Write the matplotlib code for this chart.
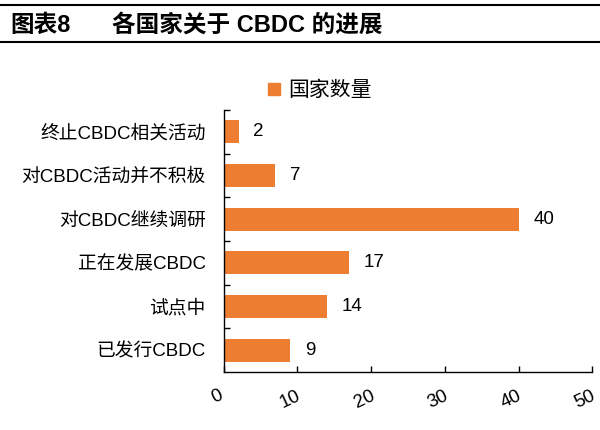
import matplotlib.pyplot as plt
import matplotlib.transforms as mtransforms
from matplotlib.lines import Line2D

plt.rcParams['font.family'] = ['Liberation Sans', 'Noto Sans CJK SC']

categories = ["终止CBDC相关活动", "对CBDC活动并不积极", "对CBDC继续调研",
              "正在发展CBDC", "试点中", "已发行CBDC"]
counts = [2, 7, 40, 17, 14, 9]
xticks = [0, 10, 20, 30, 40, 50]
series_name = "国家数量"
title_no = "图表8"
title = "各国家关于 CBDC 的进展"

orange = "#ED7D31"

fig = plt.figure(figsize=(6, 4.3), dpi=100)
ax = fig.add_axes([0.373, 0.135, 0.614, 0.609])

pos = list(range(len(categories)))
ax.barh(pos, counts, height=0.53, color=orange)
ax.set_ylim(len(categories) - 0.5, -0.5)
ax.set_xlim(0, 50)

for p, v in zip(pos, counts):
    ax.text(v + 2, p, str(v), va="center", ha="left", fontsize=13.5)

ax.set_yticks(pos)
ax.set_yticklabels(categories, fontsize=13.5)
ax.set_yticks([p + 0.5 for p in pos[:-1]] + [-0.5], minor=True)
ax.tick_params(axis="y", which="major", length=0, pad=13)
ax.tick_params(axis="y", which="minor", length=4, direction="in", width=1)

ax.set_xticks(xticks)
ax.set_xticklabels([str(t) for t in xticks], rotation=25, fontsize=13.5,
                   ha="center")
ax.tick_params(axis="x", length=4, direction="in", width=1, pad=11)
shift = mtransforms.ScaledTranslation(-7 / 100, 0, fig.dpi_scale_trans)
for lab in ax.get_xticklabels():
    lab.set_transform(lab.get_transform() + shift)

for s in ["top", "right"]:
    ax.spines[s].set_visible(False)
for s in ["left", "bottom"]:
    ax.spines[s].set_linewidth(1)
    ax.spines[s].set_color("black")

handle = Line2D([], [], marker="s", linestyle="none", color=orange, markersize=8)
fig.legend([handle], [series_name], loc="center left",
           bbox_to_anchor=(0.39, 0.79), frameon=False, fontsize=15,
           handletextpad=-0.3)

fig.text(0.017, 0.942, title_no, fontsize=17, fontweight="bold", va="center")
fig.text(0.187, 0.942, title, fontsize=17, fontweight="bold", va="center")
fig.add_artist(Line2D([0, 1], [0.988, 0.988], color="black", lw=1.5))
fig.add_artist(Line2D([0, 1], [0.902, 0.902], color="black", lw=1.5))

fig.savefig("out.png", dpi=100)
